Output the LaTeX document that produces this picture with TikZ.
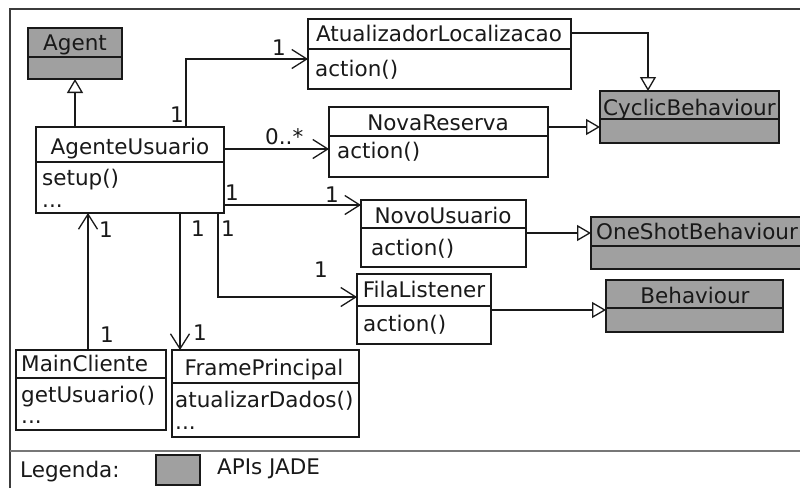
\documentclass[tikz,border=0pt]{standalone}
\usepackage{fontspec}
\setmainfont{DejaVu Sans}
\usetikzlibrary{arrows.meta}
\definecolor{jade}{RGB}{160,160,160}
\definecolor{ink}{RGB}{25,25,25}
\definecolor{framec}{RGB}{60,60,60}
\newcommand\umlbox[7]{%
  \node[clsbox, minimum width=#4pt, minimum height=#5pt, fill=#7] (#1) at (#2,#3) {};
  \draw[line width=1.3pt, ink] ([yshift=-#6pt]#1.north west) -- ([yshift=-#6pt]#1.north east);
}
\begin{document}
\begin{tikzpicture}[x=1pt, y=-1pt,
  every node/.style={font=\fontsize{21.5pt}{25pt}\selectfont, text=ink},
  clsbox/.style={draw=ink, line width=1.3pt, rectangle, anchor=north west, inner sep=0pt, outer sep=0pt},
  txtw/.style={anchor=base west, inner sep=0pt},
  txtc/.style={anchor=base, inner sep=0pt},
  mult/.style={anchor=center, inner sep=0pt},
  assoc/.style={draw=ink, line width=1.3pt, -{Straight Barb[length=15pt, width=19pt, line width=1.3pt]}},
  gen/.style={draw=ink, line width=1.3pt, -{Triangle[open, length=14pt, width=16pt, line width=1.3pt, fill=white]}},
]
\useasboundingbox (0,0) rectangle (800,488);
\fill[white] (0,0) rectangle (800,488);
% frame
\draw[framec, line width=1.6pt] (10,488) -- (10,9) -- (800,9);
\draw[framec!70, line width=1.8pt] (10,451) -- (800,451);

% classes
\umlbox{ag}{28}{28}{94}{51}{29}{jade}
\umlbox{au}{36}{127}{188}{86}{35}{white}
\umlbox{atl}{308}{19}{263}{70}{30}{white}
\umlbox{nr}{329}{107}{219}{70}{29}{white}
\umlbox{cb}{600}{91}{179}{52}{28}{jade}
\umlbox{nu}{361}{200}{165}{67}{28}{white}
\umlbox{os}{591}{217}{230}{52}{29}{jade}
\umlbox{fl}{357}{274}{134}{70}{32}{white}
\umlbox{bh}{606}{280}{177}{52}{28}{jade}
\umlbox{mc}{16}{350}{150}{80}{28}{white}
\umlbox{fp}{172}{350}{187}{87}{33}{white}

% texts
\node[txtc] (tag) at (75,50) {Agent};
\node[txtc] (tau) at (130,154) {AgenteUsuario};
\node[txtw] (tau1) at (42,185) {setup()};
\node[txtw] (tau2) at (42,207) {...};
\node[txtc] (tatl) at (439,41) {AtualizadorLocalizacao};
\node[txtw] (tatl1) at (315,76) {action()};
\node[txtc] (tnr) at (438,130) {NovaReserva};
\node[txtw] (tnr1) at (337,158) {action()};
\node[txtw] (tcb) at (603,115) {CyclicBehaviour};
\node[txtc] (tnu) at (443,223) {NovoUsuario};
\node[txtw] (tnu1) at (371,255) {action()};
\node[txtw] (tos) at (596,239) {OneShotBehaviour};
\node[txtc] (tfl) at (424,297) {FilaListener};
\node[txtw] (tfl1) at (363,331) {action()};
\node[txtc] (tbh) at (695,303) {Behaviour};
\node[txtw] (tmc) at (21,371) {MainCliente};
\node[txtw] (tmc1) at (21,402) {getUsuario()};
\node[txtw] (tmc2) at (21,423) {...};
\node[txtc] (tfp) at (264,375) {FramePrincipal};
\node[txtw] (tfp1) at (175,407) {atualizarDados()};
\node[txtw] (tfp2) at (175,429) {...};

% connectors
\draw[gen] (au.north -| ag.south) -- (ag.south);
\draw[assoc] ([xshift=150pt]au.north west) |- ([yshift=-40pt]atl.north west);
\coordinate (a1) at ([yshift=-22pt]au.north east);
\draw[assoc] (a1) -- (a1 -| nr.west);
\coordinate (a2) at ([yshift=-78pt]au.north east);
\draw[assoc] (a2) -- (a2 -| nu.west);
\coordinate (a3) at ([xshift=182pt]au.south west);
\draw[assoc] (a3) |- ([yshift=-23pt]fl.north west);
\coordinate (a4) at ([xshift=144pt]au.south west);
\draw[assoc] (a4) -- (a4 |- fp.north);
\coordinate (a5) at ([xshift=72pt]mc.north west);
\draw[assoc] (a5) -- (a5 |- au.south);

\draw[gen] ([yshift=-14pt]atl.north east) -| ([xshift=48pt]cb.north west);
\coordinate (b2) at ([yshift=-20pt]nr.north east);
\draw[gen] (b2) -- (b2 -| cb.west);
\coordinate (b3) at ([yshift=-33pt]nu.north east);
\draw[gen] (b3) -- (b3 -| os.west);
\coordinate (b4) at ([yshift=-36pt]fl.north east);
\draw[gen] (b4) -- (b4 -| bh.west);

% multiplicities
\node[mult] (m1) at (177,115) {1};
\node[mult] (m2) at (279,48) {1};
\node[txtw] (m3) at (265,144) {0..*};
\node[mult] (m4) at (232,193) {1};
\node[mult] (m5) at (332,195) {1};
\node[mult] (m6) at (198,229) {1};
\node[mult] (m7) at (228,229) {1};
\node[mult] (m8) at (321,270) {1};
\node[mult] (m9) at (200,333) {1};
\node[mult] (m10) at (106,230) {1};
\node[mult] (m11) at (107,335) {1};

% legend
\node[txtw] (lg) at (20,477) {Legenda:};
\node[clsbox, minimum width=44pt, minimum height=30pt, fill=jade] (lgbox) at (156,455) {};
\node[txtw] (lgt) at (217,474) {APIs JADE};
\end{tikzpicture}
\end{document}
